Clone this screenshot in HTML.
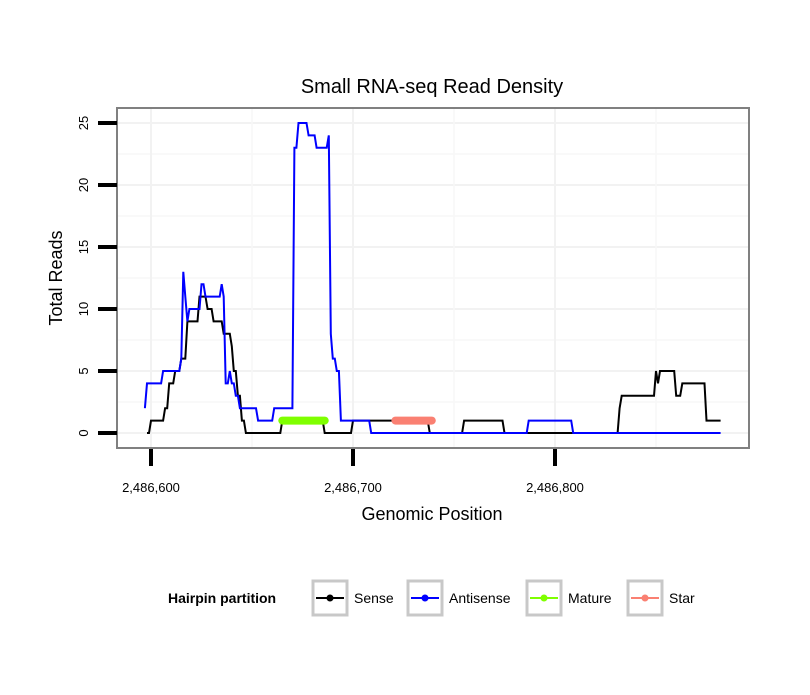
<!DOCTYPE html>
<html><head><meta charset="utf-8"><style>
body{margin:0;background:#fff;font-family:"Liberation Sans",sans-serif}
</style></head><body>
<svg id="c" width="810" height="690" xmlns="http://www.w3.org/2000/svg" font-family="Liberation Sans, sans-serif">
<text x="432" y="93" font-size="20" text-anchor="middle">Small RNA-seq Read Density</text>
<g id="grid"></g>
<g id="series"></g>
<rect x="117" y="108" width="632" height="340" fill="none" stroke="#808080" stroke-width="2"/>
<g id="axes"></g>
<text x="432" y="520" font-size="18" text-anchor="middle">Genomic Position</text>
<text transform="translate(62,278) rotate(-90)" font-size="18" text-anchor="middle">Total Reads</text>
<g>
<text x="168" y="603" font-size="14" font-weight="bold">Hairpin partition</text>
<g id="legend"></g>
</g>
</svg>
<script>
const senseX=[2486598,2486600,2486607,2486609,2486612,2486615,2486618,2486624,2486628,2486631,2486636,2486640,2486641,2486643,2486645,2486647,2486665,2486686,2486700,2486738,2486755,2486775,2486832,2486833,2486850,2486851,2486852,2486860,2486863,2486875,2486882];
const senseY=[0,1,2,4,5,6,9,11,10,9,8,7,5,3,1,0,1,0,1,0,1,0,2,3,5,4,5,3,4,1,1];
const antiX=[2486597,2486598,2486606,2486615,2486616,2486617,2486618,2486619,2486625,2486627,2486635,2486636,2486637,2486639,2486640,2486642,2486644,2486646,2486653,2486661,2486671,2486673,2486678,2486682,2486688,2486689,2486690,2486692,2486694,2486709,2486787,2486809,2486882];
const antiY=[2,4,5,6,13,11,9,10,12,11,12,11,4,5,4,3,2,2,1,2,23,25,24,23,24,8,6,5,1,0,1,0,0];
const matureRange=[2486665,2486686];
const starRange=[2486721,2486739];
const matureValue=1, starValue=1;
const yTicks=[0,5,10,15,20,25];
const xTicks=[2486600,2486700,2486800];
const xTickLabels=["2,486,600","2,486,700","2,486,800"];
const legendLabels=["Sense","Antisense","Mature","Star"];
const legendColors=["#000000","#0000ff","#7fff00","#fa8072"];

const NS="http://www.w3.org/2000/svg";
const X=p=>151+(p-2486600)*2.02;
const Y=v=>433-v*12.4;
function mk(parent,tag,attrs){const e=document.createElementNS(NS,tag);for(const k in attrs)e.setAttribute(k,attrs[k]);document.getElementById(parent).appendChild(e);return e;}
for(let i=0;i<yTicks.length;i++){
  const l=mk('grid','line',{x1:118,x2:748,y1:Y(yTicks[i]),y2:Y(yTicks[i]),stroke:'#f2f2f2','stroke-width':2});
  
  
  const mv=yTicks[i]+2.5;
  if(Y(mv)>109){
    const m=mk('grid','line',{x1:118,x2:748,y1:Y(mv),y2:Y(mv),stroke:'#f7f7f7','stroke-width':1.5});
    
    
  }
}
for(let i=0;i<4;i++){
  const p=2486600+i*100;
  if(X(p)<748){
    const l=mk('grid','line',{x1:X(p),x2:X(p),y1:109,y2:447,stroke:'#f2f2f2','stroke-width':2});
    
    
  }
  const mp=p+50;
  if(X(mp)<748){
    const m=mk('grid','line',{x1:X(mp),x2:X(mp),y1:109,y2:447,stroke:'#f7f7f7','stroke-width':1.5});
    
    
  }
}
function path(xs,ys){
  let d='M'+X(xs[0]).toFixed(1)+','+Y(ys[0]).toFixed(1);
  for(let i=1;i<xs.length;i++){
    const gap=xs[i]-xs[i-1];
    if(gap>1.2){d+=' L'+X(xs[i]-1).toFixed(1)+','+Y(ys[i-1]).toFixed(1);}
    d+=' L'+X(xs[i]).toFixed(1)+','+Y(ys[i]).toFixed(1);
  }
  return d;
}
const s=mk('series','path',{d:path(senseX,senseY),fill:'none',stroke:'#000','stroke-width':2});


const a=mk('series','path',{d:path(antiX,antiY),fill:'none',stroke:'#0000ff','stroke-width':2});


const mt=mk('series','line',{x1:X(matureRange[0]),x2:X(matureRange[1]),y1:Y(matureValue),y2:Y(matureValue),stroke:'#7fff00','stroke-width':8,'stroke-linecap':'round'});


const st=mk('series','line',{x1:X(starRange[0]),x2:X(starRange[1]),y1:Y(starValue),y2:Y(starValue),stroke:'#fa8072','stroke-width':8,'stroke-linecap':'round'});


for(const v of yTicks){
  const t=mk('axes','line',{x1:98,x2:117,y1:Y(v),y2:Y(v),stroke:'#000','stroke-width':4});
  
  
  const tx=mk('axes','text',{transform:`translate(88,${Y(v)}) rotate(-90)`,'font-size':13,'text-anchor':'middle'});
  tx.textContent=v;
  
  
}
xTicks.forEach((p,i)=>{
  const t=mk('axes','line',{x1:X(p),x2:X(p),y1:449,y2:466,stroke:'#000','stroke-width':4});
  
  
  const tx=mk('axes','text',{x:X(p),y:492,'font-size':13,'text-anchor':'middle'});
  tx.textContent=xTickLabels[i];
  
  
});
const lx=[313,408,527,628];
legendLabels.forEach((lab,i)=>{
  const r=mk('legend','rect',{x:lx[i],y:581,width:34,height:34,fill:'#fff',stroke:'#c8c8c8','stroke-width':3});
  
  
  const l=mk('legend','line',{x1:lx[i]+3,x2:lx[i]+31,y1:598,y2:598,stroke:legendColors[i],'stroke-width':2});
  
  
  const c=mk('legend','circle',{cx:lx[i]+17,cy:598,r:3.5,fill:legendColors[i]});
  
  
  const t=mk('legend','text',{x:lx[i]+41,y:603,'font-size':14});
  t.textContent=lab;
  
  
});
</script>
</body></html>
